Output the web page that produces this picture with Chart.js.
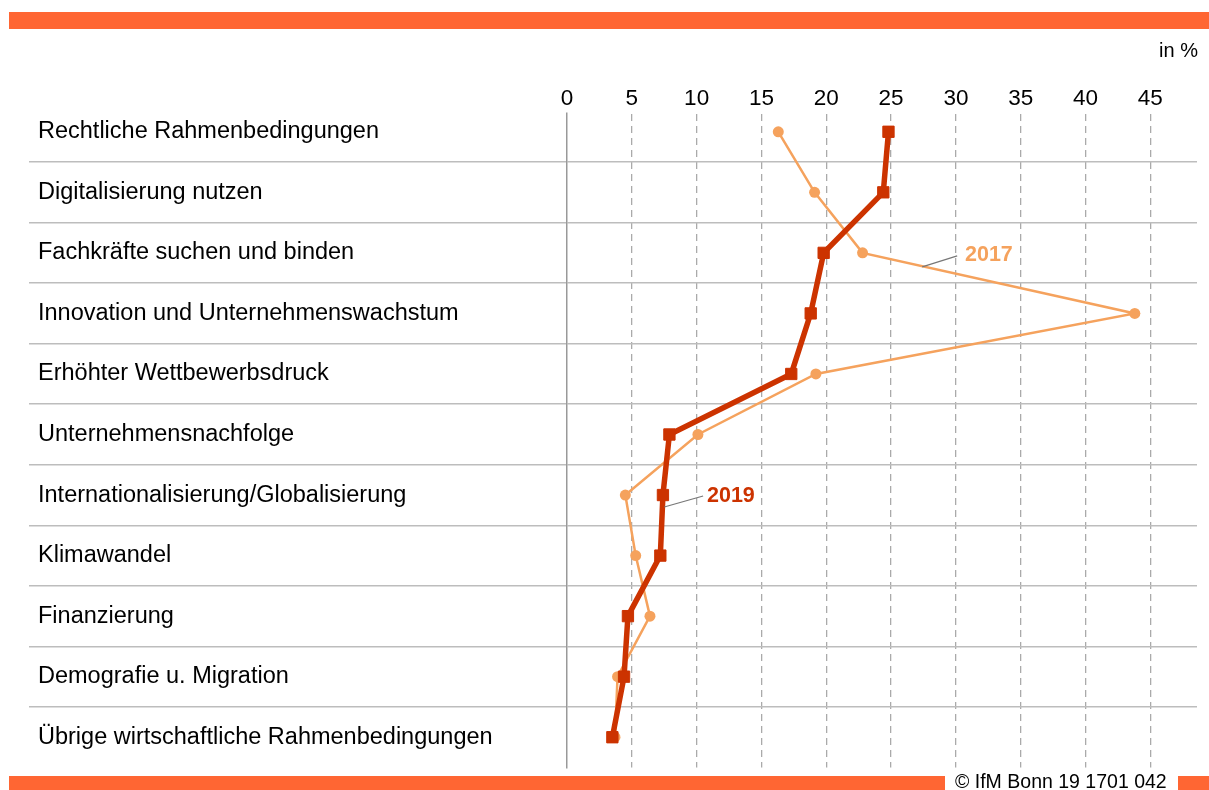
<!DOCTYPE html>
<html lang="de">
<head>
    <meta charset="UTF-8">
    <title>Herausforderungen Mittelstand</title>
    <script src="https://cdn.jsdelivr.net/npm/chart.js@4"></script>
    <style>
        body {
            margin: 0;
            background: #fff;
        }
        #chart {
            display: block;
        }
    </style>
</head>
<body>
    <canvas id="chart" width="1209" height="790"></canvas>

    <script>
        // data
        const categories = [
            'Rechtliche Rahmenbedingungen',
            'Digitalisierung nutzen',
            'Fachkräfte suchen und binden',
            'Innovation und Unternehmenswachstum',
            'Erhöhter Wettbewerbsdruck',
            'Unternehmensnachfolge',
            'Internationalisierung/Globalisierung',
            'Klimawandel',
            'Finanzierung',
            'Demografie u. Migration',
            'Übrige wirtschaftliche Rahmenbedingungen'
        ];
        const values2019 = [24.8, 24.4, 19.8, 18.8, 17.3, 7.9, 7.4, 7.2, 4.7, 4.4, 3.5];
        const values2017 = [16.3, 19.1, 22.8, 43.8, 19.2, 10.1, 4.5, 5.3, 6.4, 3.9, 3.7];
        const tickStep = 5;
        const axisMax = 48.6;

        const ORANGE_BAR = '#ff6633';
        const RED = '#cc3300';
        const SAND = '#f5a25d';
        const FONT = "'Liberation Sans', Arial, sans-serif";

        Chart.defaults.font.family = FONT;

        // frame, unit, source, x tick numbers and series names
        const decorations = {
            id: 'decorations',
            afterDraw(chart) {
                const c = chart.ctx;
                const x = chart.scales.x;
                const y = chart.scales.y;
                const area = chart.chartArea;
                c.save();

                c.fillStyle = ORANGE_BAR;
                c.fillRect(9, 12, 1200, 17);
                c.fillRect(9, 776, 936, 14);
                c.fillRect(1178, 776, 31, 14);

                // the vertical grid starts a bit below the top of the first row
                c.fillStyle = '#fff';
                c.fillRect(area.left - 2, area.top - 1, area.right - area.left + 4, 12);

                c.fillStyle = '#000';
                c.font = '20px ' + FONT;
                c.textBaseline = 'middle';
                c.textAlign = 'right';
                c.fillText('in %', 1198, 51);
                c.textAlign = 'left';
                c.font = '19.5px ' + FONT;
                c.fillText('\u00a9 IfM Bonn 19 1701 042', 955, 783);

                // tick numbers of the top axis (labels of the scale would be clipped)
                c.font = '22.5px ' + FONT;
                c.textAlign = 'center';
                x.ticks.forEach((t) => {
                    c.fillText(String(t.value), x.getPixelForValue(t.value), 99);
                });

                // series labels with leader lines
                c.textAlign = 'left';
                c.strokeStyle = '#777';
                c.lineWidth = 1.2;
                c.beginPath();
                c.moveTo(x.getPixelForValue(27.4), y.getPixelForValue(2) + 14);
                c.lineTo(x.getPixelForValue(30.1), y.getPixelForValue(2) + 3);
                c.moveTo(x.getPixelForValue(7.5), y.getPixelForValue(6) + 12);
                c.lineTo(x.getPixelForValue(10.5), y.getPixelForValue(6) + 1);
                c.stroke();

                c.font = 'bold 21.5px ' + FONT;
                c.fillStyle = SAND;
                c.fillText('2017', x.getPixelForValue(30.7), y.getPixelForValue(2) + 2);
                c.fillStyle = RED;
                c.fillText('2019', x.getPixelForValue(10.8), y.getPixelForValue(6) + 1);
                c.restore();
            }
        };

        const ctx = document.getElementById('chart').getContext('2d');
        const chart = new Chart(ctx, {
            type: 'line',
            data: {
                labels: categories,
                datasets: [{
                    label: '2019',
                    data: values2019,
                    borderColor: RED,
                    backgroundColor: RED,
                    borderWidth: 5.5,
                    pointStyle: 'rect',
                    pointRadius: 8,
                    pointBorderWidth: 1,
                    tension: 0
                }, {
                    label: '2017',
                    data: values2017,
                    borderColor: SAND,
                    backgroundColor: SAND,
                    borderWidth: 2.5,
                    pointStyle: 'circle',
                    pointRadius: 5.5,
                    pointBorderWidth: 0,
                    tension: 0
                }]
            },
            options: {
                responsive: false,
                animation: false,
                devicePixelRatio: 1,
                indexAxis: 'y',
                layout: {
                    padding: {left: 38, right: 12, top: 71.5, bottom: 22.5}
                },
                plugins: {
                    legend: {display: false},
                    tooltip: {enabled: false}
                },
                scales: {
                    x: {
                        type: 'linear',
                        position: 'top',
                        min: 0,
                        max: axisMax,
                        afterFit: (scale) => { scale.height = 30; },
                        ticks: {
                            stepSize: tickStep,
                            includeBounds: false,
                            display: false
                        },
                        grid: {
                            color: (c) => (c.tick && c.tick.value === 0) ? 'rgba(0,0,0,0)' : '#aaaaaa',
                            lineWidth: 1.3,
                            drawTicks: false
                        },
                        border: {display: false, dash: [7, 5]}
                    },
                    y: {
                        type: 'category',
                        offset: true,
                        afterFit: (scale) => { scale.width = 529; },
                        ticks: {
                            crossAlign: 'far',
                            color: '#000',
                            font: {size: 23.5}
                        },
                        grid: {
                            offset: true,
                            color: (c) => (c.type !== 'tick' || c.index === 0) ? 'rgba(0,0,0,0)' : '#bdbdbd',
                            lineWidth: 1.5,
                            drawTicks: true,
                            tickLength: 538
                        },
                        border: {display: true, color: '#999999', width: 1.5}
                    }
                }
            },
            plugins: [decorations]
        });
    </script>
</body>
</html>
